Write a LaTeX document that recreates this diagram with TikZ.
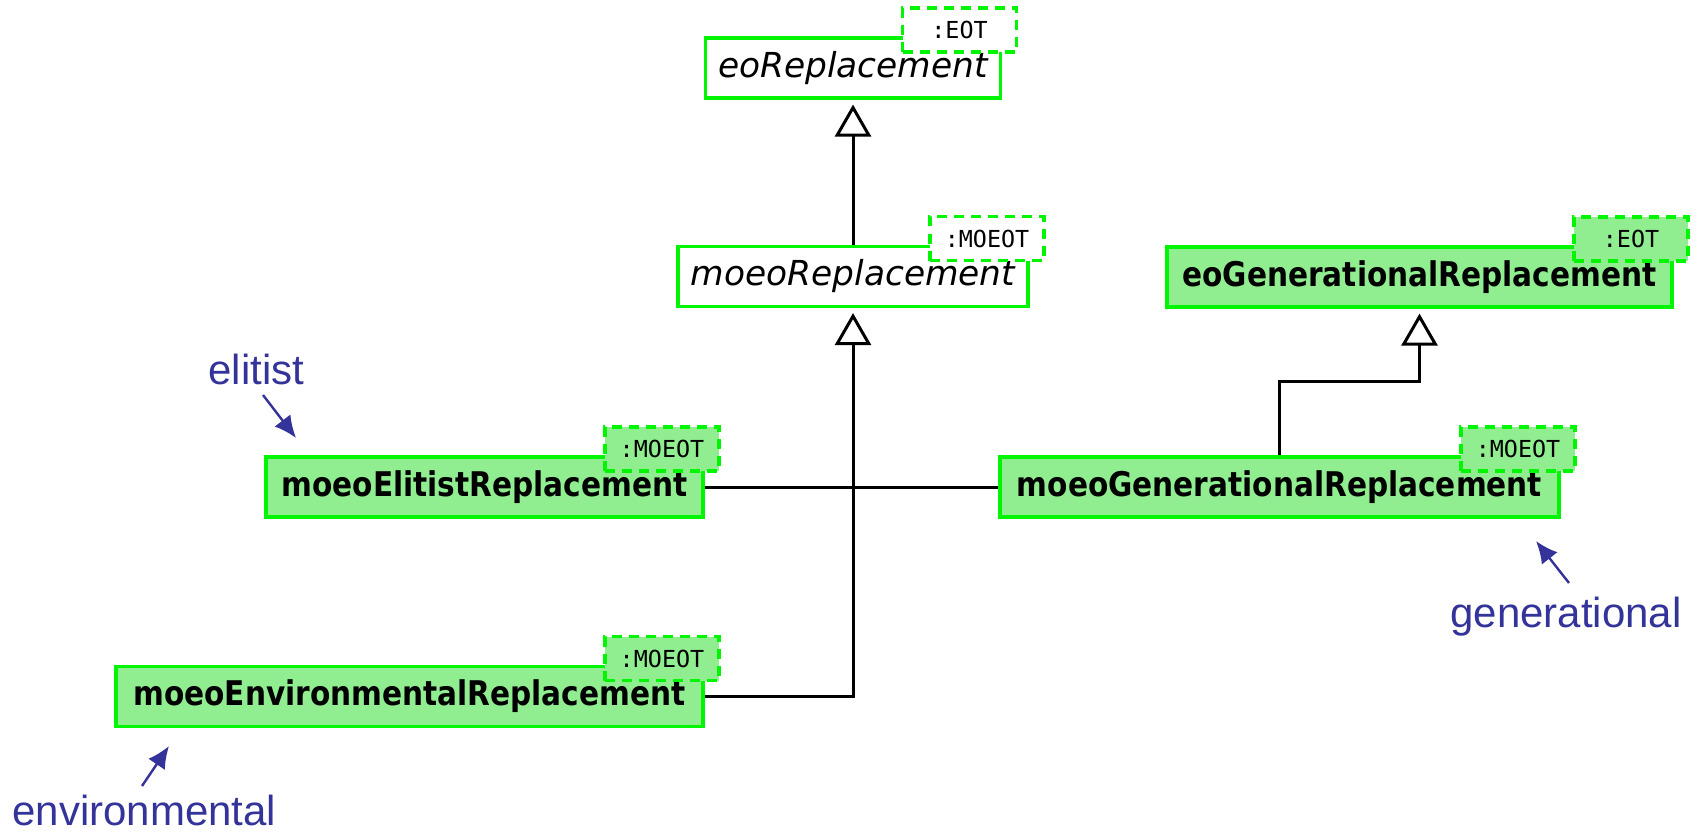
\documentclass[tikz,border=0pt]{standalone}
\usepackage{fontspec}
\setmainfont{Liberation Sans}
\newfontfamily\classfont[FakeStretch=0.87]{DejaVu Sans}
\newfontfamily\abstractfont{DejaVu Sans}
\newfontfamily\paramfont{DejaVu Sans Mono}
\usetikzlibrary{arrows.meta, positioning}
\usepackage{xcolor}
\definecolor{umlgreen}{RGB}{0,245,0}
\definecolor{umlfill}{RGB}{144,238,144}
\definecolor{noteblue}{RGB}{51,51,153}
\tikzstyle{concrete} = [rectangle, 
minimum height=30pt, 
inner sep=0pt, 
text centered, 
draw=umlgreen, line width=1.6pt, 
fill=umlfill, 
font=\classfont\bfseries\fontsize{17}{20}\selectfont]
\tikzstyle{abstract} = [rectangle, 
minimum height=30pt, 
inner sep=0pt, 
text centered, 
draw=umlgreen, line width=1.6pt, 
fill=white, 
font=\abstractfont\itshape\fontsize{17.2}{20}\selectfont]
\tikzstyle{tparam} = [rectangle, 
minimum width=57pt, 
minimum height=22pt, 
inner sep=0pt, 
draw=umlgreen, line width=1.6pt, 
dash pattern=on 5pt off 3.5pt, 
anchor=north east, xshift=8pt, yshift=15pt, 
font=\paramfont\fontsize{11.7}{14}\selectfont]
\tikzstyle{inherit} = [line width=1.5pt, shorten >=2.5pt, 
-{Triangle[open, length=16pt, width=18pt]}]
\tikzstyle{link} = [line width=1.5pt]
\tikzstyle{note} = [text=noteblue, anchor=base west, inner sep=0pt, 
font=\fontsize{21}{25}\selectfont]
\tikzstyle{pointer} = [noteblue, line width=1.2pt, -{Latex[length=11pt, width=10pt]}]

\begin{document}
\begin{tikzpicture}[x=0.5pt, y=-0.5pt]
	\useasboundingbox (0,0) rectangle (1700,834);
	
	\node (eoRep) [abstract, minimum width=147.5pt] at (853,68) {eoReplacement};
	\node (moeoRep) [abstract, minimum width=175pt] at (853,276.5) {moeoReplacement};
	\node (eoGen) [concrete, minimum width=252.5pt] at (1419.5,277) {eoGenerationalReplacement};
	\node (elit) [concrete, minimum width=218.5pt] at (484.5,487) {moeoElitistReplacement};
	\node (moeoGen) [concrete, minimum width=279.5pt] at (1279.5,487) {moeoGenerationalReplacement};
	\node (env) [concrete, minimum width=293.5pt] at (409.5,696.5) {moeoEnvironmentalReplacement};
	
	% template parameters
	\node (eoRepT) [tparam, fill=white] at (eoRep.north east) {:EOT};
	\node (moeoRepT) [tparam, fill=white] at (moeoRep.north east) {:MOEOT};
	\node (eoGenT) [tparam, fill=umlfill] at (eoGen.north east) {:EOT};
	\node (elitT) [tparam, fill=umlfill] at (elit.north east) {:MOEOT};
	\node (moeoGenT) [tparam, fill=umlfill] at (moeoGen.north east) {:MOEOT};
	\node (envT) [tparam, fill=umlfill] at (env.north east) {:MOEOT};
	
	% notes
	\node (elitistnote) [note] at (208,384) {elitist};
	\node (envnote) [note] at (12,825) {environmental};
	\node (gennote) [note] at (1450,627) {generational};
	\coordinate (elitfrom) at (263,395);
	\coordinate (elitto) at (296,438);
	\coordinate (envfrom) at (142,786);
	\coordinate (envto) at (169,746);
	\coordinate (genfrom) at (1569,583);
	\coordinate (gento) at (1536,541);
	
	\draw [inherit] (moeoRep.north) -- (eoRep.south);
	\draw [inherit] (env.east) -| (moeoRep.south);
	\draw [link] (elit.east) -- (moeoGen.west);
	\draw [inherit] (moeoGen.north) -- ++(0,-74) -| (eoGen.south);
	
	\draw [pointer] (elitfrom) -- (elitto);
	\draw [pointer] (envfrom) -- (envto);
	\draw [pointer] (genfrom) -- (gento);
	
\end{tikzpicture}
\end{document}
